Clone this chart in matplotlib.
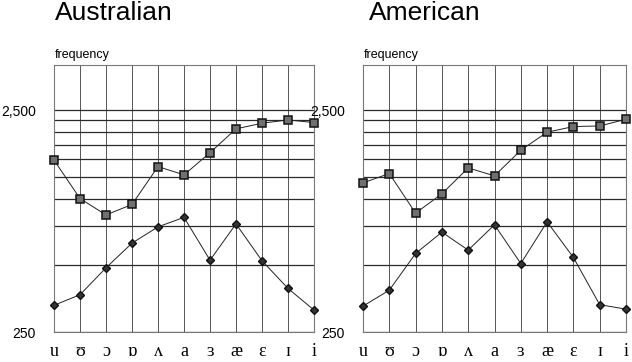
import matplotlib.pyplot as plt
import matplotlib.ticker as mticker

vowels = ['u', 'ʊ', 'ɔ', 'ɒ', 'ʌ', 'a', 'ɜ', 'æ', 'ɛ', 'ɪ', 'i']

# formant frequencies (Hz)
aus_f2 = [1490, 1000, 843, 940, 1393, 1278, 1609, 2061, 2185, 2262, 2200]
aus_f1 = [330, 368, 487, 629, 745, 822, 527, 768, 524, 393, 314]
ame_f2 = [1176, 1296, 859, 1050, 1374, 1265, 1651, 1990, 2111, 2124, 2277]
ame_f1 = [327, 386, 565, 705, 585, 761, 509, 785, 542, 332, 317]

grid_vals = [500, 750, 1000, 1250, 1500, 1750, 2000, 2250]

fig = plt.figure(figsize=(6.32, 3.62), dpi=100)
W, H = 632, 362

def make_panel(left_px, right_px, title, title_x, f2, f1):
    ax = fig.add_axes([left_px / W, 1 - 332 / H, (right_px - left_px) / W, 267 / H])
    x = list(range(len(vowels)))
    ax.set_yscale('log')
    ax.set_ylim(250, 4000)
    ax.set_xlim(0, len(vowels) - 1)

    ax.yaxis.set_major_locator(mticker.FixedLocator([250, 2500]))
    ax.yaxis.set_major_formatter(mticker.FixedFormatter(['250', '2,500']))
    ax.yaxis.set_minor_locator(mticker.FixedLocator(grid_vals))
    ax.yaxis.set_minor_formatter(mticker.NullFormatter())
    ax.tick_params(axis='y', which='both', length=0, pad=13, labelsize=10)
    for lab in ax.get_yticklabels():
        lab.set_family('Liberation Sans')

    ax.set_xticks(x)
    ax.set_xticklabels(vowels, family=['Liberation Serif', 'DejaVu Serif'], fontsize=13)
    ax.tick_params(axis='x', length=0, pad=8)

    ax.grid(axis='y', which='both', color='#2a2a2a', lw=0.9)
    ax.grid(axis='x', color='#555555', lw=0.7)
    for s in ax.spines.values():
        s.set_color('#777777')
        s.set_linewidth(0.8)

    ax.plot(x, f2, color='#222222', lw=0.7, marker='s', markersize=6,
            markerfacecolor='#707070', markeredgecolor='#111111', markeredgewidth=1.1,
            clip_on=False, zorder=3)
    ax.plot(x, f1, color='#222222', lw=0.7, marker='D', markersize=4.5,
            markerfacecolor='#333333', markeredgecolor='#111111',
            clip_on=False, zorder=3)

    fig.text(title_x / W, 1 - 20 / H, title, fontsize=19, family='Liberation Sans',
             ha='left', va='baseline')
    fig.text((left_px + 1) / W, 1 - 58 / H, 'frequency', fontsize=9,
             family='Liberation Sans', ha='left', va='baseline')
    return ax

make_panel(54, 314, 'Australian', 55, aus_f2, aus_f1)
make_panel(363, 626, 'American', 369, ame_f2, ame_f1)

fig.savefig('out.png', dpi=100)
